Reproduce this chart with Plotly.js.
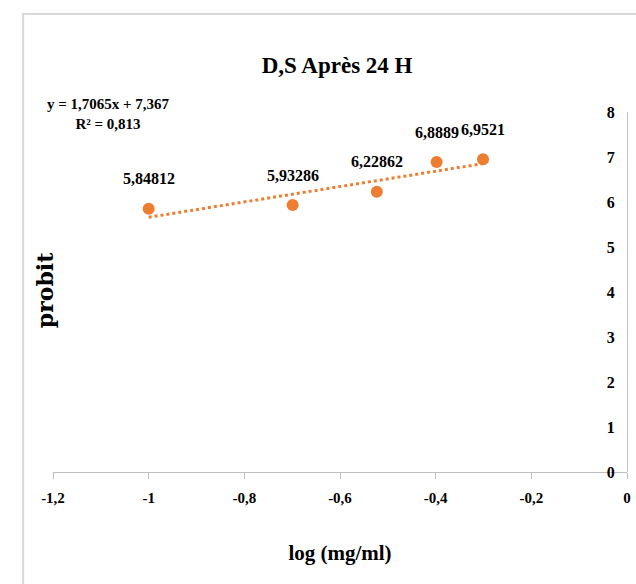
<!DOCTYPE html>
<html>
<head>
<meta charset="utf-8">
<script src="https://cdn.plot.ly/plotly-3.0.1.min.js"></script>
<style>html,body{margin:0;padding:0;background:#fff;}#chart{width:636px;height:584px;}</style>
</head>
<body>
<div id="chart"></div>
<script>
// Data
var logConc = [-1, -0.699, -0.523, -0.398, -0.301];
var probit = [5.84812, 5.93286, 6.22862, 6.8889, 6.9521];
var pointLabels = ["5,84812", "5,93286", "6,22862", "6,8889", "6,9521"];
// Linear trendline: ends at first and last x
var trendX = [-1, -0.301];
var trendY = [5.6605, 6.8533];
var equationText = "y = 1,7065x + 7,367<br>R² = 0,813";
var xTickVals = [-1.2, -1, -0.8, -0.6, -0.4, -0.2, 0];
var xTickText = ["-1,2", "-1", "-0,8", "-0,6", "-0,4", "-0,2", "0"];
var yTickVals = [0, 1, 2, 3, 4, 5, 6, 7, 8];
var yTickText = ["0", "1", "2", "3", "4", "5", "6", "7", "8"];

var serif = "Liberation Serif, Times New Roman, serif";
var orange = "#ED7D31";

var traces = [
  {
    x: trendX, y: trendY, type: "scatter", mode: "lines",
    line: {color: orange, width: 3, dash: "dot"},
    hoverinfo: "skip", showlegend: false
  },
  {
    x: logConc, y: probit, type: "scatter", mode: "markers",
    marker: {color: orange, size: 12},
    showlegend: false
  }
];

var annotations = logConc.map(function (xv, i) {
  return {
    x: xv, y: probit[i], xref: "x", yref: "y",
    text: pointLabels[i], showarrow: false, yshift: 30,
    font: {family: serif, size: 16, color: "#000", weight: "bold"}
  };
});
annotations.push({
  xref: "paper", yref: "paper", x: 0.096, y: 0.994,
  xanchor: "center", yanchor: "middle", align: "center",
  text: equationText, showarrow: false,
  font: {family: serif, size: 15, color: "#000", weight: "bold"}
});
annotations.push({
  xref: "paper", yref: "paper", x: -0.014, y: 0.505,
  xanchor: "center", yanchor: "middle", textangle: -90,
  text: "probit", showarrow: false,
  font: {family: "DejaVu Serif, serif", size: 22, color: "#000", weight: "bold"}
});

var layout = {
  width: 636, height: 584,
  margin: {l: 53, r: 9, t: 112, b: 112},
  paper_bgcolor: "#fff", plot_bgcolor: "#fff",
  separators: ", ",
  title: {
    text: "D,S Après 24 H", xref: "paper", x: 0.495, xanchor: "center",
    yref: "container", y: 0.889, yanchor: "middle",
    font: {family: serif, size: 23, color: "#000", weight: "bold"}
  },
  xaxis: {
    range: [-1.2, 0.00001], tickvals: xTickVals, ticktext: xTickText,
    showgrid: false, zeroline: false, showline: true, linecolor: "#bfbfbf", linewidth: 1,
    ticks: "outside", ticklen: 6, tickcolor: "#bfbfbf",
    ticklabelstandoff: 6,
    tickfont: {family: serif, size: 15, color: "#000", weight: "bold"},
    title: {text: "log (mg/ml)", standoff: 40, font: {family: serif, size: 21, color: "#000", weight: "bold"}}
  },
  yaxis: {
    range: [0, 8.00001], tickvals: yTickVals, ticktext: yTickText,
    anchor: "free", position: 1, side: "left",
    showgrid: false, zeroline: false, showline: true, linecolor: "#bfbfbf", linewidth: 1,
    ticks: "", ticklabelstandoff: 9,
    tickfont: {family: serif, size: 16, color: "#000", weight: "bold"}
  },
  shapes: [{
    type: "rect", xref: "paper", yref: "paper",
    x0: -0.052, x1: 1.2, y0: -0.6, y1: 1.272,
    line: {color: "#d9d9d9", width: 2}, fillcolor: "rgba(0,0,0,0)", layer: "below"
  }],
  annotations: annotations
};

Plotly.newPlot("chart", traces, layout, {displayModeBar: false, staticPlot: true});
</script>
</body>
</html>
